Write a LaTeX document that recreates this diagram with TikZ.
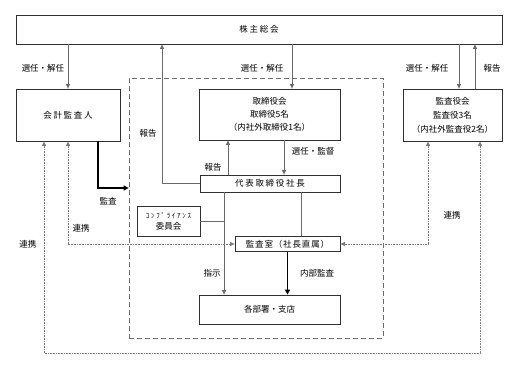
\documentclass[tikz,border=0pt]{standalone}
\usepackage{fontspec}
\setmainfont{Noto Sans CJK JP}
\usetikzlibrary{arrows.meta}
\definecolor{bord}{HTML}{303030}
\definecolor{conn}{HTML}{6A6A6A}
\definecolor{dotc}{HTML}{7A7A7A}
\begin{document}
\begin{tikzpicture}[x=1pt,y=-1pt,
  box/.style={draw=bord,line width=0.8pt,inner sep=0pt,align=center,font=\fontsize{8.5}{13}\selectfont},
  lbl/.style={inner sep=0pt,font=\fontsize{8.5}{10}\selectfont},
  conline/.style={draw=conn,line width=0.7pt},
  arr/.style={conline,-{Triangle[length=4.5pt,width=4pt]}},
  thickarr/.style={draw=black,line width=1.8pt,-{Triangle[length=5pt,width=5pt]}},
  dotarr/.style={draw=dotc,line width=0.7pt,dash pattern=on 0.8pt off 0.8pt,{Triangle[length=4.5pt,width=4pt]}-{Triangle[length=4.5pt,width=4pt]}},
  grpbox/.style={draw=conn,line width=0.7pt,dash pattern=on 5pt off 3pt,inner sep=0pt}
]
\useasboundingbox (0,0) rectangle (507,370);

% group (dashed) box
\node[grpbox,minimum width=254pt,minimum height=260pt] (grp) at (256,208) {};

% boxes
\node[box,minimum width=486pt,minimum height=29pt] (top) at (259,29.5) {\addfontfeature{LetterSpace=20}株主総会};
\node[box,minimum width=104pt,minimum height=52pt] (kaikei) at (68,115) {\addfontfeature{LetterSpace=20}会計監査人};
\node[box,minimum width=141pt,minimum height=51pt] (tori) at (269.5,114.5) {取締役会\\取締役5名\\（内社外取締役1名）};
\node[box,minimum width=99pt,minimum height=52pt,font=\fontsize{8.5}{14}\selectfont] (kansayaku) at (452.5,115) {監査役会\\監査役3名\\（内社外監査役2名）};
\node[box,minimum width=140pt,minimum height=17pt] (daihyo) at (270,183.5) {\addfontfeature{LetterSpace=20}代表取締役社長};
\node[box,minimum width=63pt,minimum height=30pt,font=\fontsize{8.5}{11}\selectfont] (comp) at (168.5,221) {{\fontsize{7}{8}\selectfont\addfontfeature{LetterSpace=25}ｺﾝﾌﾟﾗｲｱﾝｽ}\\委員会};
\node[box,minimum width=105pt,minimum height=15pt] (kansa) at (287.5,244) {\addfontfeature{LetterSpace=10}監査室（社長直属）};
\node[box,minimum width=141pt,minimum height=29pt] (kakubu) at (269.5,309.5) {各部署・支店};

% helper x / y positions
\coordinate (xM) at (292,0);
\coordinate (xR1) at (459,0);
\coordinate (xR2) at (475,0);
\coordinate (xL) at (162,0);
\coordinate (xI) at (228,0);
\coordinate (xS) at (284,0);
\coordinate (xD) at (224,0);
\coordinate (xK) at (301,0);
\coordinate (xT) at (98,0);
\coordinate (yT) at (0,188);
\coordinate (xO1) at (44,0);
\coordinate (xO2) at (480,0);
\coordinate (xC) at (428,0);
\coordinate (yB) at (0,353);

% connectors
\draw[arr] (top.south -| kaikei) -- (kaikei.north);
\draw[arr] (top.south -| xM) -- (tori.north -| xM);
\draw[arr] (top.south -| xR1) -- (kansayaku.north -| xR1);
\draw[arr] (kansayaku.north -| xR2) -- (top.south -| xR2);
\draw[arr] (daihyo.west) -| (top.south -| xL);
\draw[arr] (daihyo.north -| xI) -- (tori.south -| xI);
\draw[arr] (tori.south -| xS) -- (daihyo.north -| xS);
\draw[arr] (daihyo.south -| xD) -- (kakubu.north -| xD);
\draw[conline] (comp.east) -- (comp.east -| xD);
\draw[conline] (daihyo.south -| xK) -- (kansa.north -| xK);
\draw[thickarr] (kansa.south) -- (kakubu.north -| kansa);
\draw[thickarr] (kaikei.south -| xT) |- (grp.west |- yT);
\draw[dotarr] (kaikei.south) |- (kansa.west);
\draw[dotarr] (kansayaku.south -| xC) |- (kansa.east);
\draw[dotarr] (kaikei.south -| xO1) -- (xO1 |- yB) -- (xO2 |- yB) -- (kansayaku.south -| xO2);

% labels
\node[lbl] (l1) at (43,68) {選任・解任};
\node[lbl] (l2) at (262,68) {選任・解任};
\node[lbl] (l3) at (427,68) {選任・解任};
\node[lbl] (l4) at (492,68) {報告};
\node[lbl] (l5) at (148,133) {報告};
\node[lbl] (l6) at (213,167) {報告};
\node[lbl] (l7) at (313,151) {選任・監督};
\node[lbl] (l8) at (108,201) {監査};
\node[lbl] (l9) at (81,228) {連携};
\node[lbl] (l10) at (28,244) {連携};
\node[lbl] (l11) at (452,215) {連携};
\node[lbl] (l12) at (212,273) {指示};
\node[lbl] (l13) at (317,273) {内部監査};
\end{tikzpicture}
\end{document}
